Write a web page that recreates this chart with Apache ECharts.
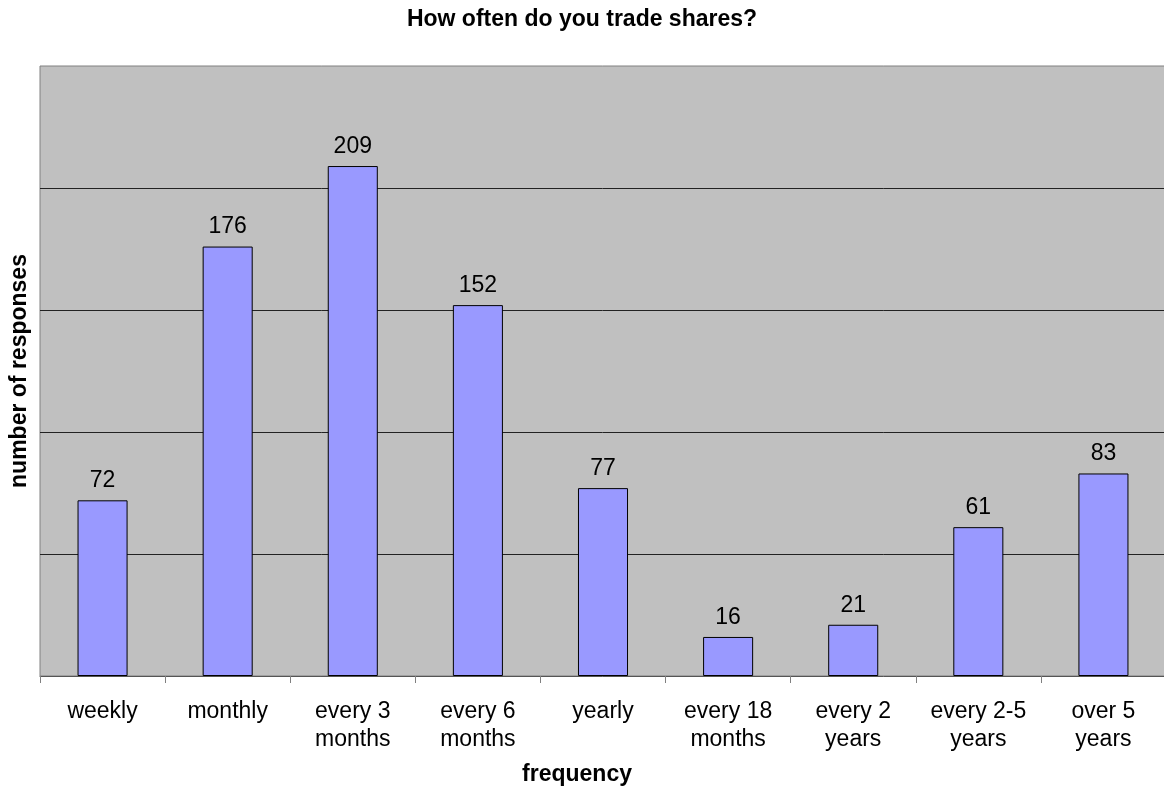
<!DOCTYPE html>
<html>
<head>
<meta charset="utf-8">
<script src="https://cdn.jsdelivr.net/npm/echarts@6/dist/echarts.min.js"></script>
<style>
html,body{margin:0;padding:0;background:#fff;}
#chart{width:1164px;height:794px;}
</style>
</head>
<body>
<div id="chart"></div>
<script>
const categories = ['weekly', 'monthly', 'every 3\nmonths', 'every 6\nmonths', 'yearly', 'every 18\nmonths', 'every 2\nyears', 'every 2-5\nyears', 'over 5\nyears'];
const responses = [72, 176, 209, 152, 77, 16, 21, 61, 83];
const yTicks = [0, 50, 100, 150, 200, 250];

const chart = echarts.init(document.getElementById('chart'));
const FONT = '"Liberation Sans", Arial, sans-serif';
chart.setOption({
  animation: false,
  backgroundColor: '#ffffff',
  title: {
    text: 'How often do you trade shares?',
    left: 'center',
    top: 3,
    textStyle: { fontFamily: FONT, fontSize: 23, fontWeight: 'bold', color: '#000' }
  },
  grid: {
    left: 40, top: 66, right: -2, bottom: 118,
    outerBoundsMode: 'none',
    containLabel: false,
    show: true, backgroundColor: '#C0C0C0', borderColor: '#808080', borderWidth: 1
  },
  xAxis: {
    type: 'category',
    data: categories,
    name: 'frequency',
    nameLocation: 'middle',
    nameGap: 87,
    nameTextStyle: { fontFamily: FONT, fontSize: 23, fontWeight: 'bold', color: '#000', padding: [0, 52, 0, 0] },
    axisLine: { show: true, lineStyle: { color: '#555', width: 1 } },
    axisTick: { show: true, length: 7, lineStyle: { color: '#808080' } },
    axisLabel: { fontFamily: FONT, fontSize: 23, color: '#000', margin: 22, lineHeight: 28, interval: 0 }
  },
  yAxis: {
    type: 'value',
    min: yTicks[0],
    max: yTicks[yTicks.length - 1],
    interval: yTicks[1] - yTicks[0],
    name: 'number of responses',
    nameLocation: 'middle',
    nameGap: 9,
    nameTextStyle: { fontFamily: FONT, fontSize: 23, fontWeight: 'bold', color: '#000' },
    axisLine: { show: false },
    axisTick: { show: false },
    axisLabel: { show: false },
    splitLine: { show: true, showMinLine: false, showMaxLine: false, lineStyle: { color: '#222', width: 1 } }
  },
  series: [{
    type: 'bar',
    data: responses,
    barWidth: '40%',
    itemStyle: { color: '#9999FF', borderColor: '#000', borderWidth: 1 },
    label: { show: true, position: 'top', distance: 8, fontFamily: FONT, fontSize: 23, color: '#000' }
  }]
});
</script>
</body>
</html>
